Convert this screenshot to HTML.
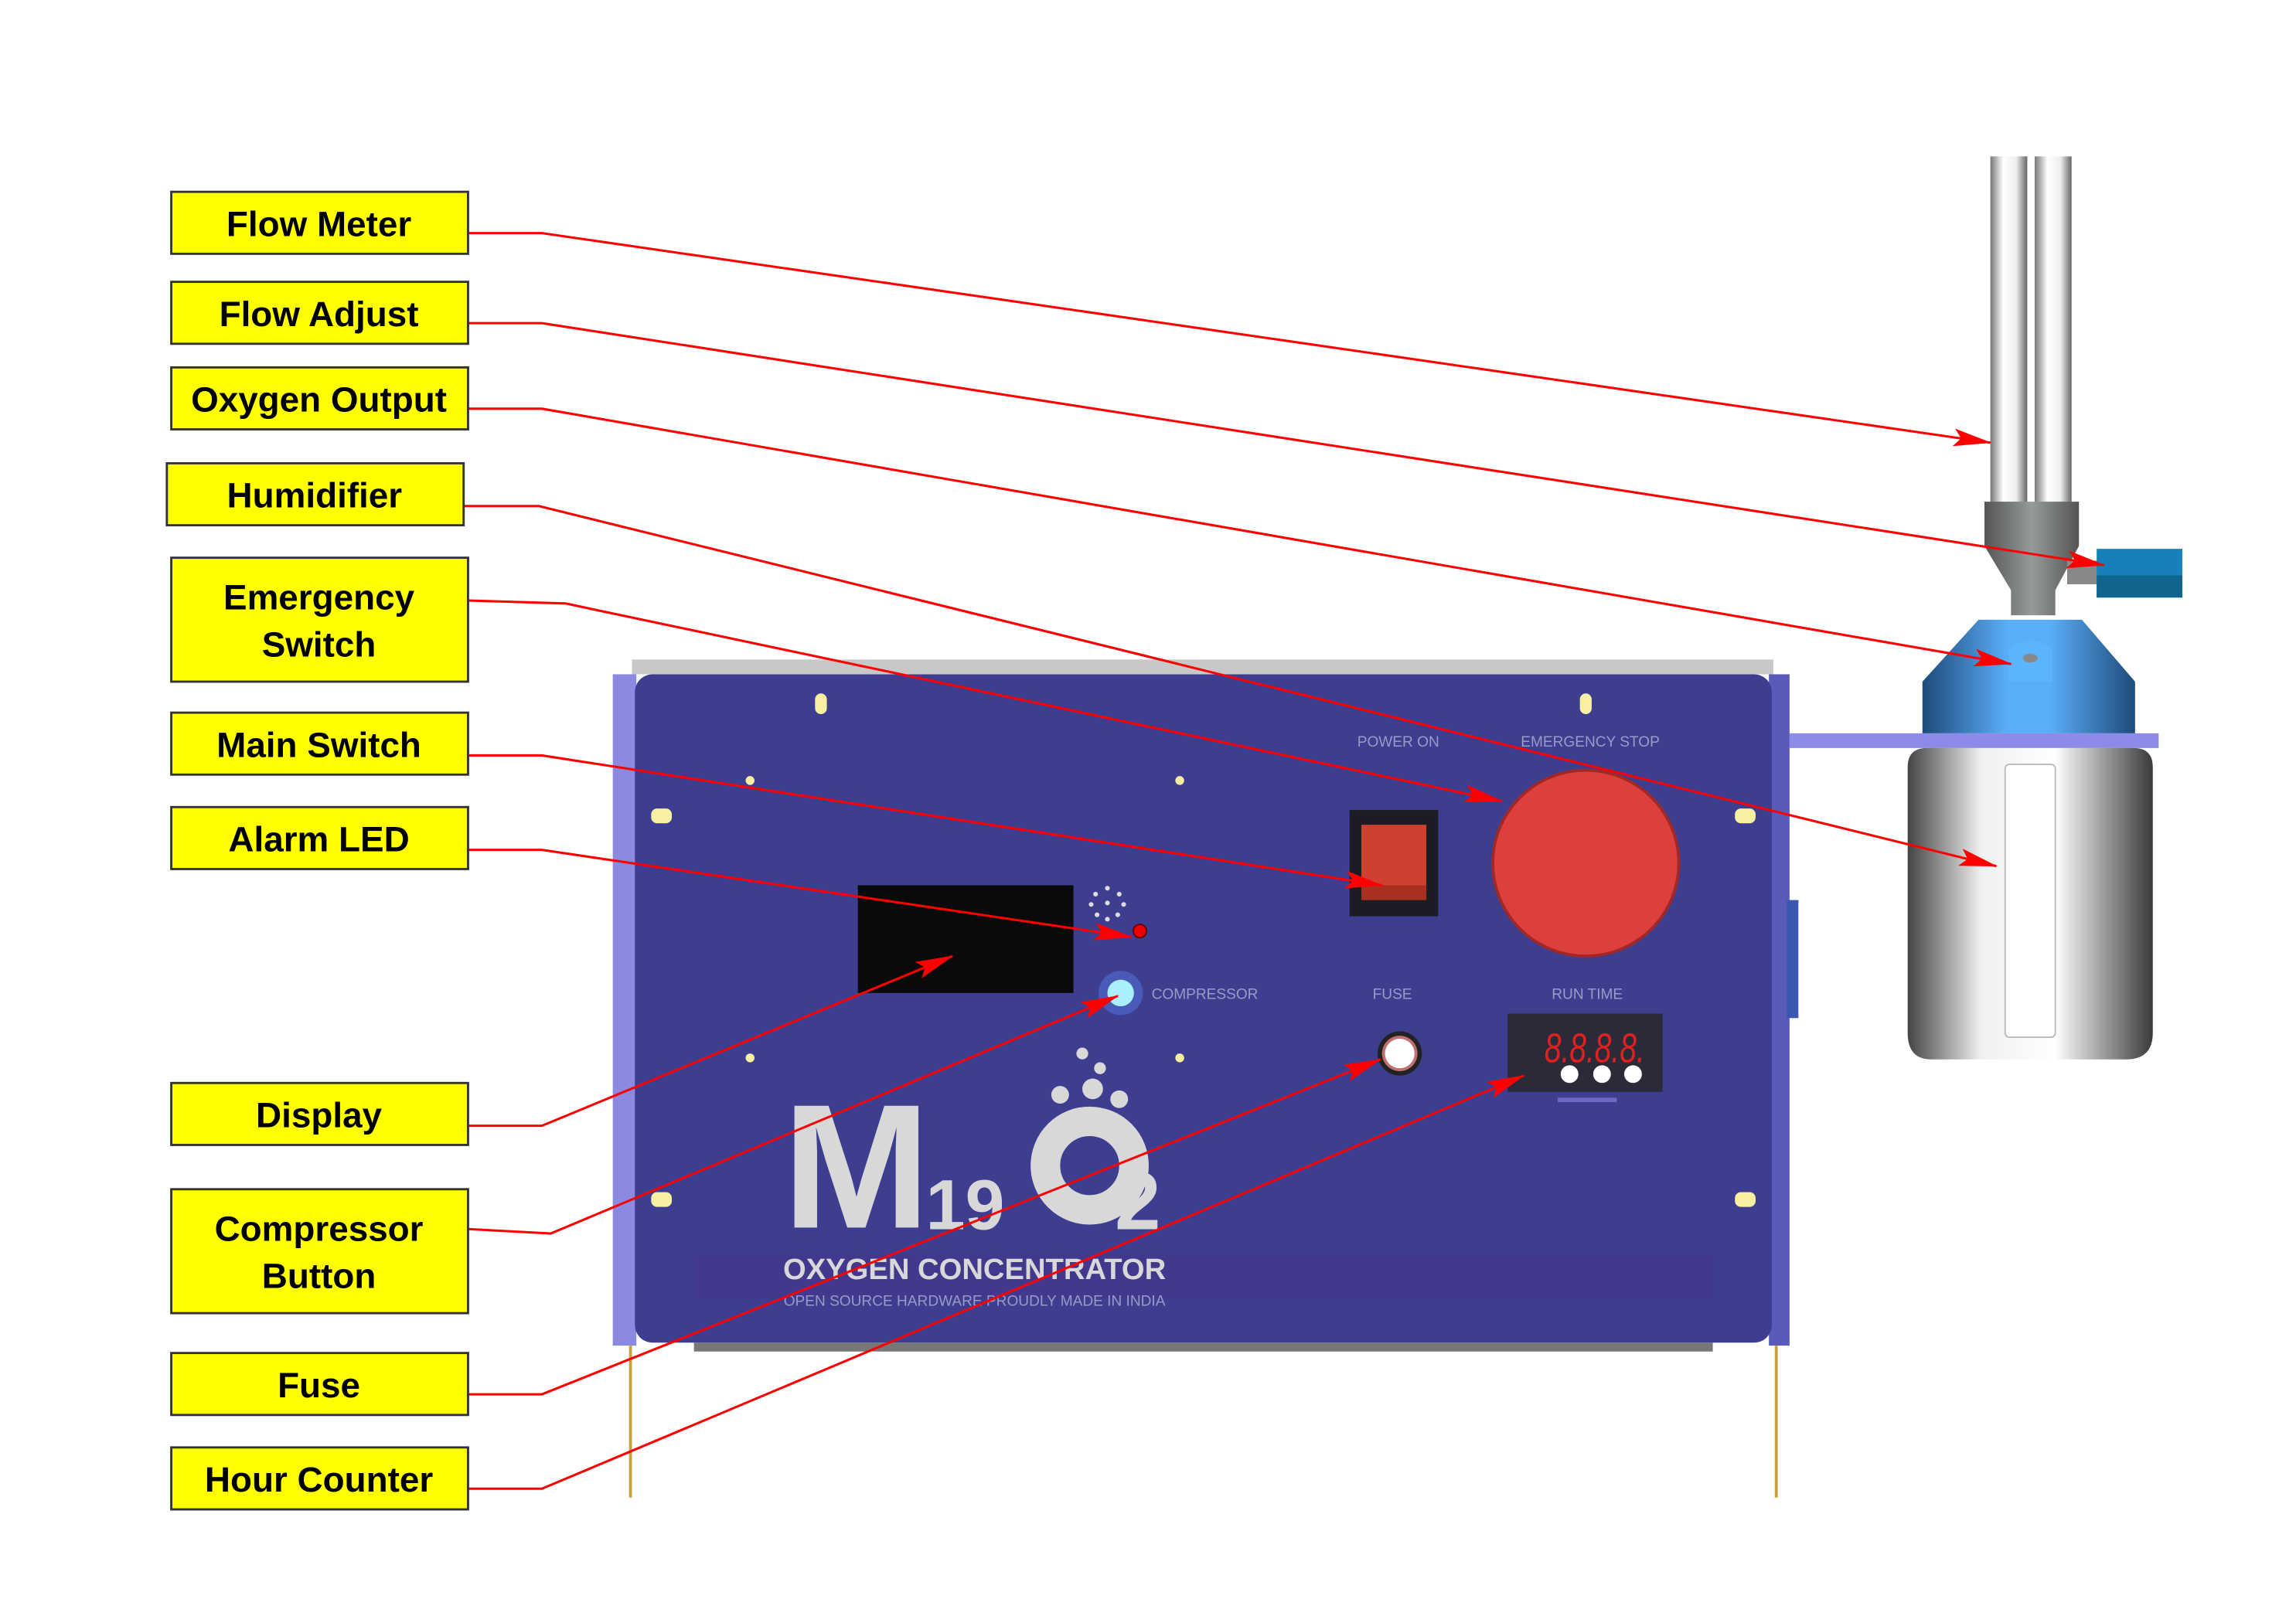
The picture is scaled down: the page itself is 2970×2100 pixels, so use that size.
<!DOCTYPE html>
<html><head><meta charset="utf-8"><style>
html,body{margin:0;padding:0;background:#fff;}
svg{display:block;}
.lbl{font-family:"Liberation Sans",sans-serif;font-weight:bold;font-size:24px;fill:#000;text-anchor:middle;}
.sm{font-family:"Liberation Sans",sans-serif;font-size:10px;fill:#9a9ac8;text-anchor:middle;}
</style></head><body>
<svg width="2970" height="2100" viewBox="0 0 1555 1100" preserveAspectRatio="none">
<defs>
<marker id="ah" markerWidth="26" markerHeight="12" refX="25" refY="6" orient="auto" markerUnits="userSpaceOnUse"><path d="M0,0 L26,6 L0,12 L5,6 Z" fill="#f00"/></marker>
<linearGradient id="tube" x1="0" x2="1"><stop offset="0" stop-color="#777"/><stop offset=".35" stop-color="#fff"/><stop offset=".7" stop-color="#eee"/><stop offset="1" stop-color="#666"/></linearGradient>
<linearGradient id="gray" x1="0" x2="1"><stop offset="0" stop-color="#555"/><stop offset=".5" stop-color="#959a9a"/><stop offset="1" stop-color="#555"/></linearGradient>
<linearGradient id="blue" x1="0" x2="1"><stop offset="0" stop-color="#1e4a7a"/><stop offset=".4" stop-color="#5aaef8"/><stop offset=".6" stop-color="#5aaef8"/><stop offset="1" stop-color="#1e4a7a"/></linearGradient>
<linearGradient id="bottle" x1="0" x2="1"><stop offset="0" stop-color="#444"/><stop offset=".3" stop-color="#f0f0f0"/><stop offset=".6" stop-color="#fff"/><stop offset="1" stop-color="#3a3a3a"/></linearGradient>
</defs>

<g>
<rect x="428" y="447" width="773" height="10" fill="#c8c8c8"/>
<rect x="415" y="457" width="16" height="455" fill="#8a8ae0"/>
<rect x="1198" y="457" width="14" height="455" fill="#5a5ab8"/>
<line x1="427" y1="912" x2="427" y2="1015" stroke="#c8a040" stroke-width="2"/>
<line x1="1203" y1="912" x2="1203" y2="1015" stroke="#c8a040" stroke-width="2"/>
<rect x="470" y="910" width="690" height="6" fill="#777"/>
<rect x="1210" y="610" width="8" height="80" fill="#3a58b0"/>
<rect x="430" y="457" width="770" height="453" rx="12" fill="#3d3e8f"/>
<rect x="470" y="850" width="690" height="30" fill="#43388f" opacity=".8"/>
<rect x="581" y="600" width="146" height="73" fill="#0a0a0a"/>
<g fill="#ddd">
<circle cx="750" cy="602" r="1.6"/><circle cx="742" cy="606" r="1.6"/><circle cx="758" cy="606" r="1.6"/><circle cx="739" cy="613" r="1.6"/><circle cx="761" cy="613" r="1.6"/><circle cx="750" cy="612" r="1.6"/><circle cx="743" cy="620" r="1.6"/><circle cx="757" cy="620" r="1.6"/><circle cx="750" cy="623" r="1.6"/>
</g>
<circle cx="772" cy="631" r="4.5" fill="#e00" stroke="#600"/>
<circle cx="759" cy="673" r="15" fill="#4a5ab8"/>
<circle cx="759" cy="673" r="9" fill="#a8f0ff"/>
<text x="816" y="677" class="sm">COMPRESSOR</text>
<text x="947" y="506" class="sm">POWER ON</text>
<text x="1077" y="506" class="sm">EMERGENCY STOP</text>
<text x="943" y="677" class="sm">FUSE</text>
<text x="1075" y="677" class="sm">RUN TIME</text>
<rect x="914" y="549" width="60" height="72" fill="#1c1c24"/>
<rect x="922" y="559" width="44" height="51" fill="#d04030"/>
<rect x="922" y="600" width="44" height="10" fill="#a83020"/>
<circle cx="1074" cy="585" r="63" fill="#dc3f3c" stroke="#a02828" stroke-width="2"/>
<circle cx="948" cy="714" r="15" fill="#222"/>
<circle cx="948" cy="714" r="12" fill="#c07070"/>
<circle cx="948" cy="714" r="10" fill="#fff"/>
<rect x="1021" y="687" width="105" height="53" fill="#2a2a38"/>
<text x="1046" y="720" font-family="Liberation Sans,sans-serif" font-style="italic" font-size="28" fill="#e02020" textLength="68" lengthAdjust="spacingAndGlyphs">8.8.8.8.</text>
<circle cx="1063" cy="728" r="6" fill="#fff"/><circle cx="1085" cy="728" r="6" fill="#fff"/><circle cx="1106" cy="728" r="6" fill="#fff"/>
<rect x="1055" y="744" width="40" height="3" fill="#6a6ac0"/>
<g fill="#f8f0a0">
<circle cx="508" cy="529" r="3"/><circle cx="799" cy="529" r="3"/><circle cx="508" cy="717" r="3"/><circle cx="799" cy="717" r="3"/>
<rect x="552" y="470" width="8" height="14" rx="4"/><rect x="1070" y="470" width="8" height="14" rx="4"/>
<rect x="441" y="548" width="14" height="10" rx="4"/><rect x="1175" y="548" width="14" height="10" rx="4"/>
<rect x="441" y="808" width="14" height="10" rx="4"/><rect x="1175" y="808" width="14" height="10" rx="4"/>
</g>
<g fill="#d8d8d8">
<text x="530" y="832" font-family="Liberation Sans,sans-serif" font-weight="bold" font-size="120" textLength="100" lengthAdjust="spacingAndGlyphs">M</text>
<text x="627" y="833" font-family="Liberation Sans,sans-serif" font-weight="bold" font-size="48">19</text>
<circle cx="738" cy="790" r="30" fill="none" stroke="#d8d8d8" stroke-width="20"/>
<text x="755" y="833" font-family="Liberation Sans,sans-serif" font-weight="bold" font-size="56" fill="#d8d8d8">2</text>
<circle cx="733" cy="714" r="4"/><circle cx="718" cy="742" r="6"/><circle cx="740" cy="738" r="7"/><circle cx="758" cy="745" r="6"/><circle cx="745" cy="724" r="4"/>
<text x="660" y="867" font-family="Liberation Sans,sans-serif" font-weight="bold" font-size="20" text-anchor="middle">OXYGEN CONCENTRATOR</text>
<text x="660" y="885" class="sm" font-size="10.5" fill="#8888c0">OPEN SOURCE HARDWARE PROUDLY MADE IN INDIA</text>
</g>
</g>

<g>
<rect x="1348" y="106" width="25" height="236" fill="url(#tube)"/>
<rect x="1378" y="106" width="25" height="236" fill="url(#tube)"/>
<path d="M1344,340 H1408 V370 L1392,400 V417 H1362 V400 L1344,370 Z" fill="url(#gray)"/>
<rect x="1400" y="380" width="22" height="16" fill="#888"/>
<rect x="1420" y="372" width="58" height="33" fill="#1680b8"/>
<rect x="1420" y="390" width="58" height="15" fill="#10648e"/>
<path d="M1302,462 L1340,420 H1410 L1446,462 V497 H1302 Z" fill="url(#blue)"/>
<path d="M1360,462 V440 Q1375,428 1390,440 V462 Z" fill="#5cb4ff"/>
<ellipse cx="1375" cy="446" rx="5" ry="3" fill="#888"/>
<rect x="1212" y="497" width="250" height="10" fill="#8c8ce8"/>
<path d="M1292,520 Q1292,507 1305,507 H1445 Q1458,507 1458,520 V700 Q1458,718 1440,718 H1308 Q1292,718 1292,700 Z" fill="url(#bottle)"/>
<rect x="1358" y="518" width="34" height="185" rx="3" fill="#fff" stroke="#bbb"/>
</g>

<g fill="none" stroke="#f00" stroke-width="1.6">
<polyline points="317,158 367,158 1348,300" marker-end="url(#ah)"/>
<polyline points="317,219 367,219 1425,383" marker-end="url(#ah)"/>
<polyline points="317,277 367,277 1362,450" marker-end="url(#ah)"/>
<polyline points="314,343 365,343 1352,587" marker-end="url(#ah)"/>
<polyline points="317,407 383,409 1017,543" marker-end="url(#ah)"/>
<polyline points="317,512 367,512 936,600" marker-end="url(#ah)"/>
<polyline points="317,576 367,576 766,635" marker-end="url(#ah)"/>
<polyline points="317,763 367,763 645,648" marker-end="url(#ah)"/>
<polyline points="317,833 373,836 757,675" marker-end="url(#ah)"/>
<polyline points="317,945 367,945 935,718" marker-end="url(#ah)"/>
<polyline points="317,1009 367,1009 1032,729" marker-end="url(#ah)"/>
</g>

<g>
<g><rect x="116" y="130" width="201" height="42" fill="#ffff00" stroke="#333" stroke-width="1.5"/><text x="216" y="160" class="lbl">Flow Meter</text></g>
<g><rect x="116" y="191" width="201" height="42" fill="#ffff00" stroke="#333" stroke-width="1.5"/><text x="216" y="221" class="lbl">Flow Adjust</text></g>
<g><rect x="116" y="249" width="201" height="42" fill="#ffff00" stroke="#333" stroke-width="1.5"/><text x="216" y="279" class="lbl">Oxygen Output</text></g>
<g><rect x="113" y="314" width="201" height="42" fill="#ffff00" stroke="#333" stroke-width="1.5"/><text x="213" y="344" class="lbl">Humidifier</text></g>
<g><rect x="116" y="378" width="201" height="84" fill="#ffff00" stroke="#333" stroke-width="1.5"/><text x="216" y="413" class="lbl">Emergency</text><text x="216" y="445" class="lbl">Switch</text></g>
<g><rect x="116" y="483" width="201" height="42" fill="#ffff00" stroke="#333" stroke-width="1.5"/><text x="216" y="513" class="lbl">Main Switch</text></g>
<g><rect x="116" y="547" width="201" height="42" fill="#ffff00" stroke="#333" stroke-width="1.5"/><text x="216" y="577" class="lbl">Alarm LED</text></g>
<g><rect x="116" y="734" width="201" height="42" fill="#ffff00" stroke="#333" stroke-width="1.5"/><text x="216" y="764" class="lbl">Display</text></g>
<g><rect x="116" y="806" width="201" height="84" fill="#ffff00" stroke="#333" stroke-width="1.5"/><text x="216" y="841" class="lbl">Compressor</text><text x="216" y="873" class="lbl">Button</text></g>
<g><rect x="116" y="917" width="201" height="42" fill="#ffff00" stroke="#333" stroke-width="1.5"/><text x="216" y="947" class="lbl">Fuse</text></g>
<g><rect x="116" y="981" width="201" height="42" fill="#ffff00" stroke="#333" stroke-width="1.5"/><text x="216" y="1011" class="lbl">Hour Counter</text></g>
</g>
</svg>
</body></html>
